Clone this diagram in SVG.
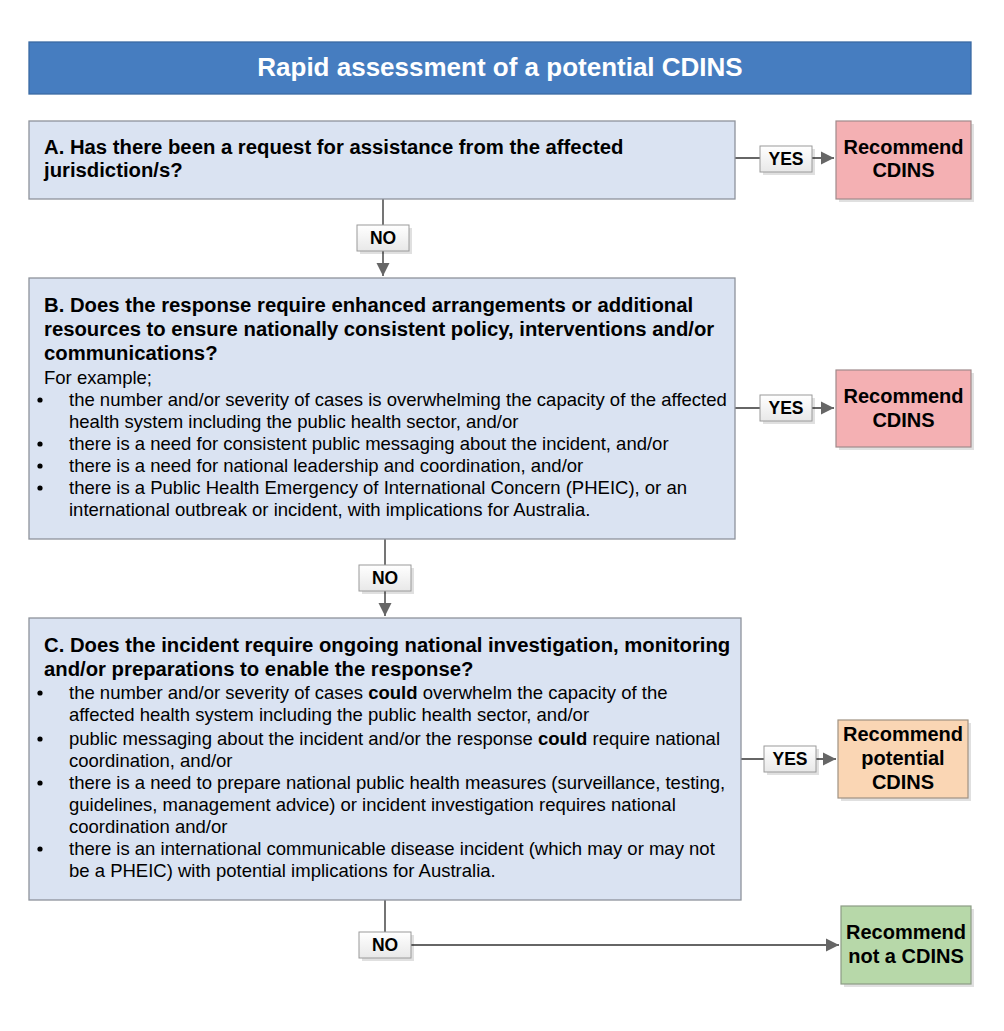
<svg xmlns="http://www.w3.org/2000/svg" width="1004" height="1031" viewBox="0 0 1004 1031">
<defs>
<style>
text{font-family:"Liberation Sans",Arial,sans-serif;fill:#000}
.q{font-size:20.3px;font-weight:bold}
.r{font-size:18.5px}
.res{font-size:20px;font-weight:bold;text-anchor:middle}
.lbl{font-size:17.5px;font-weight:bold;text-anchor:middle}
.box{fill:#DAE3F2;stroke:#8E939B;stroke-width:1.3}
.shadow{fill:#000;opacity:0.12}
.lb{fill:url(#lg);stroke:#9A9A9A;stroke-width:1}
.conn{stroke:#666;stroke-width:1.8;fill:none}
.bul{fill:#000}
</style>
<linearGradient id="lg" x1="0" y1="0" x2="0" y2="1">
<stop offset="0" stop-color="#FFFFFF"/>
<stop offset="1" stop-color="#E8E8E8"/>
</linearGradient>
<marker id="ah" viewBox="0 0 10 10" refX="10" refY="5" markerWidth="7.5" markerHeight="7.5" markerUnits="strokeWidth" orient="auto">
<path d="M0,0 L10,5 L0,10 z" fill="#666"/>
</marker>
</defs>
<rect width="1004" height="1031" fill="#fff"/>

<g id="title">
<rect x="29" y="42" width="942" height="52" fill="#467DC0" stroke="#3B6AA3" stroke-width="1.3"/>
<text x="500" y="76" style="font-size:26px;font-weight:bold;fill:#fff" text-anchor="middle">Rapid assessment of a potential CDINS</text>
</g>

<g id="connectors">
<path class="conn" d="M735,158 H834" marker-end="url(#ah)"/>
<path class="conn" d="M383,199 V276" marker-end="url(#ah)"/>
<path class="conn" d="M735,408 H834" marker-end="url(#ah)"/>
<path class="conn" d="M385,539 V616" marker-end="url(#ah)"/>
<path class="conn" d="M741,759 H836" marker-end="url(#ah)"/>
<path class="conn" d="M385,900 V945 H839" marker-end="url(#ah)"/>
<g id="labels">
<rect class="shadow" x="763" y="149" width="52" height="26"/>
<rect class="lb" x="760" y="146" width="52" height="26"/>
<text class="lbl" x="786" y="165">YES</text>
<rect class="shadow" x="360" y="228" width="52" height="26"/>
<rect class="lb" x="357" y="225" width="52" height="26"/>
<text class="lbl" x="383" y="244">NO</text>
<rect class="shadow" x="763" y="398" width="52" height="26"/>
<rect class="lb" x="760" y="395" width="52" height="26"/>
<text class="lbl" x="786" y="414">YES</text>
<rect class="shadow" x="362" y="568" width="52" height="26"/>
<rect class="lb" x="359" y="565" width="52" height="26"/>
<text class="lbl" x="385" y="584">NO</text>
<rect class="shadow" x="767" y="749" width="52" height="26"/>
<rect class="lb" x="764" y="746" width="52" height="26"/>
<text class="lbl" x="790" y="765">YES</text>
<rect class="shadow" x="362" y="935" width="52" height="26"/>
<rect class="lb" x="359" y="932" width="52" height="26"/>
<text class="lbl" x="385" y="951">NO</text>
</g>
</g>

<g id="nodeA">
<rect class="box" x="29" y="121" width="706" height="78"/>
<text class="q" x="44" y="154">A. Has there been a request for assistance from the affected</text>
<text class="q" x="44" y="177">jurisdiction/s?</text>
</g>

<g id="nodeB">
<rect class="box" x="29" y="278" width="706" height="261"/>
<text class="q" x="44" y="312">B. Does the response require enhanced arrangements or additional</text>
<text class="q" x="44" y="336">resources to ensure nationally consistent policy, interventions and/or</text>
<text class="q" x="44" y="360">communications?</text>
<text class="r" x="44" y="384">For example;</text>
<circle class="bul" cx="40" cy="400" r="2.6"/>
<circle class="bul" cx="40" cy="444" r="2.6"/>
<circle class="bul" cx="40" cy="466" r="2.6"/>
<circle class="bul" cx="40" cy="488" r="2.6"/>
<g class="r">
<text x="69" y="406">the number and/or severity of cases is overwhelming the capacity of the affected</text>
<text x="69" y="428">health system including the public health sector, and/or</text>
<text x="69" y="450">there is a need for consistent public messaging about the incident, and/or</text>
<text x="69" y="472">there is a need for national leadership and coordination, and/or</text>
<text x="69" y="494">there is a Public Health Emergency of International Concern (PHEIC), or an</text>
<text x="69" y="516">international outbreak or incident, with implications for Australia.</text>
</g>
</g>

<g id="nodeC">
<rect class="box" x="29" y="618" width="712" height="282"/>
<text class="q" x="44" y="652">C. Does the incident require ongoing national investigation, monitoring</text>
<text class="q" x="44" y="676">and/or preparations to enable the response?</text>
<circle class="bul" cx="40" cy="693" r="2.6"/>
<circle class="bul" cx="40" cy="739" r="2.6"/>
<circle class="bul" cx="40" cy="783" r="2.6"/>
<circle class="bul" cx="40" cy="849" r="2.6"/>
<g class="r">
<text x="69" y="699">the number and/or severity of cases <tspan font-weight="bold">could</tspan> overwhelm the capacity of the</text>
<text x="69" y="721">affected health system including the public health sector, and/or</text>
<text x="69" y="745">public messaging about the incident and/or the response <tspan font-weight="bold">could</tspan> require national</text>
<text x="69" y="767">coordination, and/or</text>
<text x="69" y="789">there is a need to prepare national public health measures (surveillance, testing,</text>
<text x="69" y="811">guidelines, management advice) or incident investigation requires national</text>
<text x="69" y="833">coordination and/or</text>
<text x="69" y="855">there is an international communicable disease incident (which may or may not</text>
<text x="69" y="877">be a PHEIC) with potential implications for Australia.</text>
</g>
</g>

<g id="resultA">
<rect class="shadow" x="839" y="124" width="135" height="78"/>
<rect x="836" y="121" width="135" height="78" fill="#F4B0B3" stroke="#A08A8B" stroke-width="1.2"/>
<text class="res" x="903.5" y="154">Recommend</text>
<text class="res" x="903.5" y="177">CDINS</text>
</g>

<g id="resultB">
<rect class="shadow" x="839" y="373" width="135" height="77"/>
<rect x="836" y="370" width="135" height="77" fill="#F4B0B3" stroke="#A08A8B" stroke-width="1.2"/>
<text class="res" x="903.5" y="403">Recommend</text>
<text class="res" x="903.5" y="427">CDINS</text>
</g>

<g id="resultC">
<rect class="shadow" x="841" y="723" width="130" height="78"/>
<rect x="838" y="720" width="130" height="78" fill="#FAD6B4" stroke="#A09282" stroke-width="1.2"/>
<text class="res" x="903" y="741">Recommend</text>
<text class="res" x="903" y="765">potential</text>
<text class="res" x="903" y="789">CDINS</text>
</g>

<g id="resultD">
<rect class="shadow" x="844" y="909" width="130" height="78"/>
<rect x="841" y="906" width="130" height="78" fill="#B7D8A9" stroke="#8C9C85" stroke-width="1.2"/>
<text class="res" x="906" y="939">Recommend</text>
<text class="res" x="906" y="963">not a CDINS</text>
</g>
</svg>
